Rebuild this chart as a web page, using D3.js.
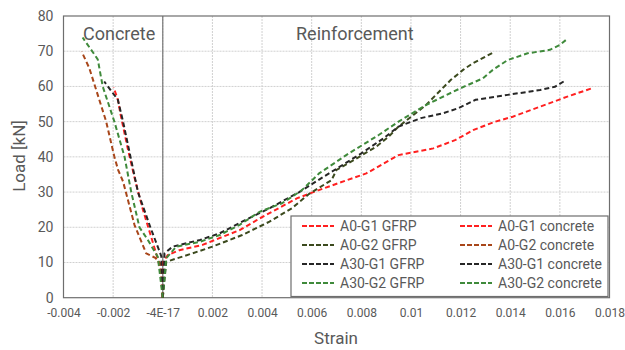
<!DOCTYPE html>
<html>
<head>
<meta charset="utf-8">
<script src="https://cdn.jsdelivr.net/npm/d3@7"></script>
<style>
  body { margin: 0; background: #fff; }
  text { font-family: Roboto, sans-serif; fill: #595959; }
</style>
</head>
<body>
<svg></svg>
<script>
// strain / load pairs
let a0g1Gfrp = [[0,0],[0,10],[0.0002,12.1],[0.00067,13.5],[0.0016,15],[0.0031,19.2],[0.0039,22.5],[0.0054,28.2],[0.0065,31.1],[0.0082,35.3],[0.0095,40.5],[0.0109,42.4],[0.0118,44.8],[0.0125,47.6],[0.0134,50],[0.0141,51.4],[0.0163,57.1],[0.0173,59.5]];
let a0g2Gfrp = [[0,0],[0.00014,10.2],[0.0012,12.6],[0.002,14.5],[0.0032,17.8],[0.0043,21.6],[0.0052,25.4],[0.0059,29.5],[0.0068,33.4],[0.007,36.3],[0.0077,39.1],[0.0086,42.9],[0.0091,45.7],[0.0095,48.6],[0.0101,51.9],[0.0106,54.7],[0.0116,61.8],[0.0121,64.7],[0.0125,66.6],[0.0133,69.6]];
let a30g1Gfrp = [[0,0],[0.00007,12.6],[0.0004,14.5],[0.0015,16.4],[0.0023,18.3],[0.0032,21.6],[0.0043,25.4],[0.0055,30],[0.0067,35.3],[0.008,41],[0.0089,45.3],[0.0095,48.6],[0.0104,51],[0.0113,52.4],[0.0119,53.8],[0.0126,56.2],[0.0139,57.6],[0.0152,59],[0.0158,59.9],[0.0162,61.6]];
let a30g2Gfrp = [[0,0],[0.00014,11.2],[0.00054,14.5],[0.0015,15.9],[0.0023,17.8],[0.0031,20.7],[0.0039,24.4],[0.0048,26.8],[0.0056,30.5],[0.0063,35.3],[0.0075,41],[0.0087,46.2],[0.0095,50],[0.0106,54.7],[0.012,59.5],[0.0129,62.3],[0.0133,64.7],[0.0139,67.5],[0.0147,69.4],[0.0156,70.4],[0.016,71.8],[0.0163,73.5]];
let a0g1Conc = [[0,0],[-0.0001,8],[-0.0002,11],[-0.0005,18],[-0.0008,25],[-0.0011,33],[-0.0014,42],[-0.0017,52],[-0.0018,56],[-0.00198,59.7]];
let a0g2Conc = [[0,0],[-0.0001,9.8],[-0.0003,11.3],[-0.00067,12.6],[-0.00114,20.7],[-0.0016,33],[-0.0018,36.3],[-0.00195,40],[-0.00228,50],[-0.00296,65.2],[-0.00327,69.9]];
let a30g1Conc = [[0,0],[-0.00006,11.8],[-0.0005,20],[-0.001,30],[-0.0013,40],[-0.0016,50],[-0.00181,56.2],[-0.00236,61.4]];
let a30g2Conc = [[0,0],[-0.0002,11.6],[-0.0006,16.4],[-0.00094,20],[-0.00127,30],[-0.00154,40],[-0.00195,50],[-0.00242,60],[-0.00262,67.7],[-0.00323,73.9]];

let seriesNames = ["A0-G1 GFRP","A0-G2 GFRP","A30-G1 GFRP","A30-G2 GFRP","A0-G1 concrete","A0-G2 concrete","A30-G1 concrete","A30-G2 concrete"];
let seriesColors = ["#ff2020","#3c4a1e","#262626","#3f8a3b","#ff2020","#a8461a","#262626","#3f8a3b"];
let xTicks = [-0.004,-0.002,0,0.002,0.004,0.006,0.008,0.01,0.012,0.014,0.016,0.018];
let xTickLabels = ["-0.004","-0.002","-4E-17","0.002","0.004","0.006","0.008","0.01","0.012","0.014","0.016","0.018"];
let yTicks = [0,10,20,30,40,50,60,70,80];

let allSeries = [a0g1Gfrp,a0g2Gfrp,a30g1Gfrp,a30g2Gfrp,a0g1Conc,a0g2Conc,a30g1Conc,a30g2Conc];

let width = 625;
let height = 350;
let plotLeft = 63.5, plotRight = 609.5, plotTop = 16, plotBottom = 297.7;

let svg = d3.select("svg").attr("width", width).attr("height", height);

let xScale = d3.scaleLinear().domain([-0.004, 0.018]).range([plotLeft, plotRight]);
let yScale = d3.scaleLinear().domain([0, 80]).range([plotBottom, plotTop]);

// grid
svg.append("g")
    .selectAll("line")
    .data(xTicks.slice(1, -1))
    .enter()
    .append("line")
    .attr("x1", (d) => xScale(d)).attr("x2", (d) => xScale(d))
    .attr("y1", plotTop).attr("y2", plotBottom)
    .attr("stroke", "#d0d0d0").attr("stroke-dasharray", "2,1");

svg.append("g")
    .selectAll("line")
    .data(yTicks.slice(1, -1))
    .enter()
    .append("line")
    .attr("x1", plotLeft).attr("x2", plotRight)
    .attr("y1", (d) => yScale(d)).attr("y2", (d) => yScale(d))
    .attr("stroke", "#d0d0d0").attr("stroke-dasharray", "2,1");

// zero line
svg.append("line")
    .attr("x1", xScale(0)).attr("x2", xScale(0))
    .attr("y1", plotTop).attr("y2", plotBottom)
    .attr("stroke", "#767676").attr("stroke-width", 1.2);

// frame
svg.append("rect")
    .attr("x", plotLeft).attr("y", plotTop)
    .attr("width", plotRight - plotLeft).attr("height", plotBottom - plotTop)
    .attr("fill", "none").attr("stroke", "#6e6e6e").attr("stroke-width", 1.2);

// axes
let xAxis = d3.axisBottom(xScale).tickValues(xTicks).tickSize(0).tickPadding(11)
    .tickFormat((d, i) => xTickLabels[i]);
svg.append("g")
    .attr("transform", "translate(0," + plotBottom + ")")
    .call(xAxis)
    .call((g) => g.select(".domain").remove())
    .selectAll("text").style("font-size", "12px").attr("fill", "#595959");

let yAxis = d3.axisLeft(yScale).tickValues(yTicks).tickSize(0).tickPadding(10);
svg.append("g")
    .attr("transform", "translate(" + plotLeft + ",0)")
    .call(yAxis)
    .call((g) => g.select(".domain").remove())
    .selectAll("text").style("font-size", "14px").attr("fill", "#595959");

svg.append("text").attr("x", 336).attr("y", 344).attr("text-anchor", "middle")
    .style("font-size", "17px").text("Strain");
svg.append("text").attr("transform", "translate(25,156) rotate(-90)").attr("text-anchor", "middle")
    .style("font-size", "17px").text("Load [kN]");

svg.append("text").attr("x", 83).attr("y", 40).style("font-size", "18px").text("Concrete");
svg.append("text").attr("x", 296).attr("y", 40).style("font-size", "18px").text("Reinforcement");

// lines
let line = d3.line().x((d) => xScale(d[0])).y((d) => yScale(d[1]));

svg.append("g")
    .selectAll("path")
    .data(allSeries)
    .enter()
    .append("path")
    .attr("d", line)
    .attr("fill", "none")
    .attr("stroke", (d, i) => seriesColors[i])
    .attr("stroke-width", 2)
    .attr("stroke-dasharray", "5,3");

// legend
let legend = svg.append("g");
legend.append("rect")
    .attr("x", 291).attr("y", 216).attr("width", 317).attr("height", 80.5)
    .attr("fill", "#fff").attr("stroke", "#6e6e6e").attr("stroke-width", 1.2);

let items = legend.selectAll("g")
    .data(seriesNames)
    .enter()
    .append("g")
    .attr("transform", (d, i) => "translate(" + (i < 4 ? 302 : 460) + "," + (226 + (i % 4) * 19) + ")");

items.append("line")
    .attr("x1", 0).attr("x2", 32).attr("y1", 0).attr("y2", 0)
    .attr("stroke", (d, i) => seriesColors[i])
    .attr("stroke-width", 2)
    .attr("stroke-dasharray", "5,2");

items.append("text")
    .attr("x", 38).attr("y", 5)
    .style("font-size", "14px").attr("fill", "#404040")
    .text((d) => d);
</script>
</body>
</html>
